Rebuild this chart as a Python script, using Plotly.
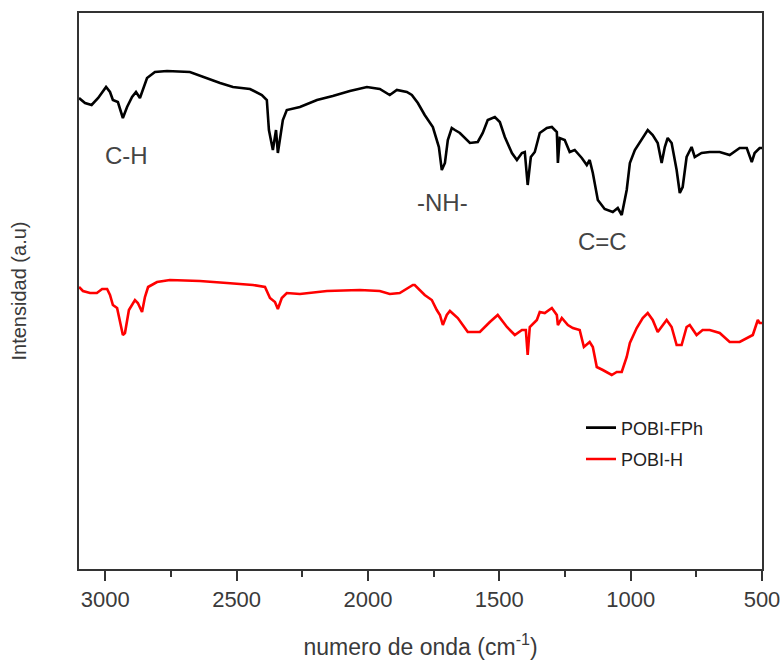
import plotly.graph_objects as go

# ---- data (wavenumber cm^-1, intensity a.u.) ----
fph_wn = [3100, 3077, 3052, 3027, 2997, 2982, 2971, 2952, 2933, 2917, 2898, 2883, 2868, 2856, 2841,
          2811, 2765, 2678, 2628, 2563, 2514, 2449, 2404, 2385, 2377, 2362, 2350, 2343, 2324, 2309,
          2259, 2194, 2134, 2069, 2004, 1955, 1917, 1890, 1852, 1833, 1810, 1784, 1753, 1738, 1730,
          1719, 1707, 1696, 1681, 1669, 1650, 1612, 1582, 1563, 1544, 1517, 1498, 1479, 1452, 1433,
          1414, 1403, 1392, 1380, 1365, 1346, 1319, 1300, 1281, 1277, 1270, 1251, 1232, 1213, 1186,
          1167, 1156, 1144, 1125, 1099, 1068, 1049, 1034, 1015, 1003, 984, 954, 935, 916, 897,
          882, 870, 859, 844, 825, 813, 802, 787, 768, 756, 730, 699, 661, 623, 585,
          558, 539, 528, 509, 500]
fph_int = [471, 466, 464, 471, 482, 477, 469, 467, 451, 462, 472, 477, 471, 481, 491,
           497, 498, 497, 492, 486, 482, 480, 474, 469, 439, 419, 439, 416, 449, 459,
           462, 469, 473, 478, 482, 480, 474, 479, 477, 474, 466, 454, 442, 429, 422,
           399, 406, 429, 441, 439, 436, 426, 427, 436, 449, 452, 447, 432, 416, 409,
           416, 417, 384, 412, 417, 436, 441, 442, 437, 406, 431, 429, 417, 419, 411,
           404, 409, 396, 369, 360, 357, 361, 354, 379, 406, 419, 432, 439, 434, 426,
           406, 422, 431, 426, 399, 376, 382, 412, 422, 412, 416, 417, 417, 414, 421,
           421, 407, 416, 421, 421]

h_wn = [3100, 3085, 3058, 3032, 3012, 2993, 2982, 2971, 2955, 2944, 2933, 2925, 2917, 2910, 2887,
        2876, 2860, 2849, 2837, 2803, 2754, 2640, 2537, 2438, 2392, 2373, 2354, 2343, 2328, 2309,
        2259, 2156, 2031, 1955, 1917, 1879, 1829, 1822, 1784, 1757, 1738, 1726, 1715, 1700, 1688,
        1658, 1620, 1574, 1536, 1506, 1471, 1441, 1414, 1399, 1392, 1384, 1357, 1346, 1327, 1300,
        1281, 1277, 1262, 1239, 1220, 1194, 1178, 1156, 1144, 1129, 1106, 1072, 1053, 1034, 1015,
        1003, 977, 954, 935, 916, 897, 878, 863, 844, 825, 806, 787, 775, 749, 726,
        699, 661, 623, 585, 554, 535, 516, 509, 500]
h_int = [282, 278, 276, 276, 280, 280, 274, 264, 261, 249, 234, 236, 251, 259, 269,
         266, 257, 272, 282, 287, 289, 288, 286, 284, 282, 271, 267, 260, 271, 276,
         275, 278, 279, 278, 275, 276, 284, 284, 274, 269, 259, 254, 244, 254, 258,
         251, 237, 237, 247, 254, 242, 234, 239, 239, 214, 242, 249, 257, 256, 261,
         254, 244, 251, 244, 241, 239, 222, 227, 222, 202, 199, 194, 197, 197, 212,
         226, 241, 251, 256, 249, 237, 244, 249, 242, 224, 224, 242, 244, 234, 239,
         239, 236, 227, 227, 231, 234, 249, 246, 246]

series_names = ["POBI-FPh", "POBI-H"]
series_colors = ["#000000", "#ff0000"]

band_labels = ["C-H", "-NH-", "C=C"]
band_wn = [2921, 1715, 1106]
band_int = [414, 367, 328]

tick_vals = [3000, 2500, 2000, 1500, 1000, 500]
tick_text = ["3000", "2500", "2000", "1500", "1000", "500"]

FONT = "Liberation Sans, Arial, sans-serif"

fig = go.Figure()
for wn, inten, name, col, grp in [(fph_wn, fph_int, series_names[0], series_colors[0], "a"),
                                  (h_wn, h_int, series_names[1], series_colors[1], "b")]:
    fig.add_trace(go.Scatter(x=wn, y=inten, mode="lines", name=name, legendgroup=grp,
                             line=dict(color=col, width=2.6)))

for lab, x, y in zip(band_labels, band_wn, band_int):
    fig.add_annotation(x=x, y=y, text=lab, showarrow=False,
                       font=dict(family=FONT, size=24, color="#444444"))

fig.update_layout(
    width=781, height=660,
    margin=dict(l=79, r=19, t=13, b=91, autoexpand=False),
    paper_bgcolor="white", plot_bgcolor="white",
    showlegend=True,
    legend=dict(x=0.735, y=0.287, xanchor="left", yanchor="top",
                bgcolor="rgba(0,0,0,0)", tracegroupgap=5,
                font=dict(family=FONT, size=18, color="#222222")),
    xaxis=dict(range=[3100, 500], tickmode="array", tickvals=tick_vals, ticktext=tick_text,
               automargin=False,
               ticks="outside", ticklen=10, tickwidth=2, tickcolor="#333333",
               showline=True, linecolor="#333333", linewidth=2, mirror=True,
               showgrid=False, zeroline=False,
               tickfont=dict(family=FONT, size=22, color="#3a3a3a"),
               minor=dict(ticks="outside", ticklen=6, tickwidth=2, tickcolor="#333333",
                          tickvals=[2750, 2250, 1750, 1250, 750], showgrid=False),
               title=dict(text="numero de onda (cm<sup>-1</sup>)", standoff=27,
                          font=dict(family=FONT, size=23, color="#3a3a3a"))),
    yaxis=dict(range=[0, 556], showticklabels=False, ticks="", automargin=False,
               showline=True, linecolor="#333333", linewidth=2, mirror=True,
               showgrid=False, zeroline=False,
               title=dict(text="Intensidad (a.u)", standoff=45,
                          font=dict(family=FONT, size=20, color="#3a3a3a"))),
)

fig.write_html("out.html")
